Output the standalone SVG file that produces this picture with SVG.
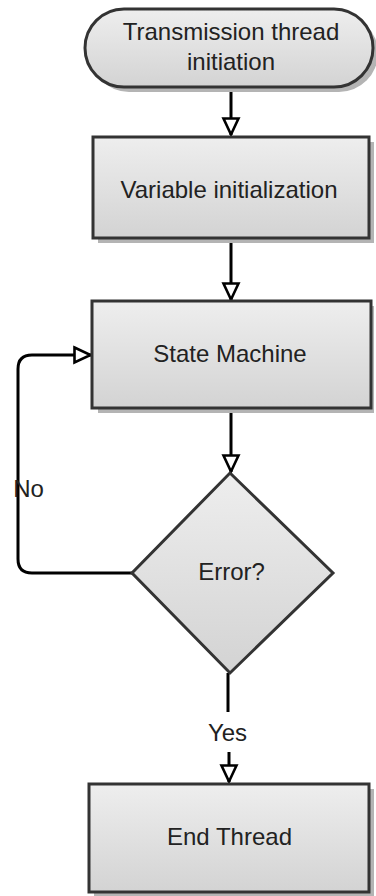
<svg xmlns="http://www.w3.org/2000/svg" width="376" height="896" viewBox="0 0 376 896">
  <defs>
    <linearGradient id="fillGrad" x1="0" y1="0" x2="0" y2="1">
      <stop offset="0" stop-color="#eeeeee"/>
      <stop offset="1" stop-color="#d3d3d3"/>
    </linearGradient>
    <marker id="arrow" viewBox="0 0 20 20" refX="18.5" refY="10" markerWidth="20" markerHeight="20" markerUnits="userSpaceOnUse" orient="auto">
      <path d="M2,2.5 L18,10 L2,17.5 Z" fill="#ffffff" stroke="#000000" stroke-width="2.6" stroke-linejoin="miter"/>
    </marker>
  </defs>
  <style>
    .shape { fill: url(#fillGrad); stroke: #333333; stroke-width: 3; }
    .shadow { fill: #b4b4b4; }
    .label { font-family: "Liberation Sans", Arial, sans-serif; font-size: 24px; fill: #222222; text-anchor: middle; }
    .edge { fill: none; stroke: #000000; stroke-width: 3; }
  </style>
  <rect width="376" height="896" fill="#ffffff"/>

  <g id="connectors">
    <path class="edge" d="M231,87 L231,135" marker-end="url(#arrow)"/>
    <path class="edge" d="M231,238 L231,300" marker-end="url(#arrow)"/>
    <path class="edge" d="M231,408 L231,472" marker-end="url(#arrow)"/>
    <path class="edge" d="M132,573 L32,573 Q18,573 18,559 L18,369 Q18,355 32,355 L91,355" marker-end="url(#arrow)"/>
    <path class="edge" d="M228,673 L228,712"/>
    <path class="edge" d="M229,752 L229,782" marker-end="url(#arrow)"/>
    <text class="label" x="28.5" y="497" font-size="26">No</text>
    <text class="label" x="227.5" y="741" font-size="27">Yes</text>
  </g>

  <g id="start">
    <rect class="shadow" x="90" y="14" width="288" height="78" rx="39"/>
    <rect class="shape" x="85" y="9" width="288" height="78" rx="39"/>
    <text class="label" x="231" y="40" font-size="25">Transmission thread</text>
    <text class="label" x="231" y="70" font-size="25">initiation</text>
  </g>

  <g id="init">
    <rect class="shadow" x="98" y="142" width="276" height="101"/>
    <rect class="shape" x="93" y="137" width="276" height="101"/>
    <text class="label" x="229" y="198" font-size="24.5">Variable initialization</text>
  </g>

  <g id="state">
    <rect class="shadow" x="98" y="306" width="276" height="107"/>
    <rect class="shape" x="92" y="301" width="279" height="107"/>
    <text class="label" x="230" y="362" font-size="23.5">State Machine</text>
  </g>

  <g id="decision">
    <polygon class="shape" points="230,473 333,573 230,673 132,573"/>
    <text class="label" x="231.5" y="580" font-size="27.5">Error?</text>
  </g>

  <g id="end">
    <rect class="shadow" x="94" y="789" width="280" height="109"/>
    <rect class="shape" x="89" y="784" width="280" height="108"/>
    <text class="label" x="229.5" y="845" font-size="24.3">End Thread</text>
  </g>
</svg>
